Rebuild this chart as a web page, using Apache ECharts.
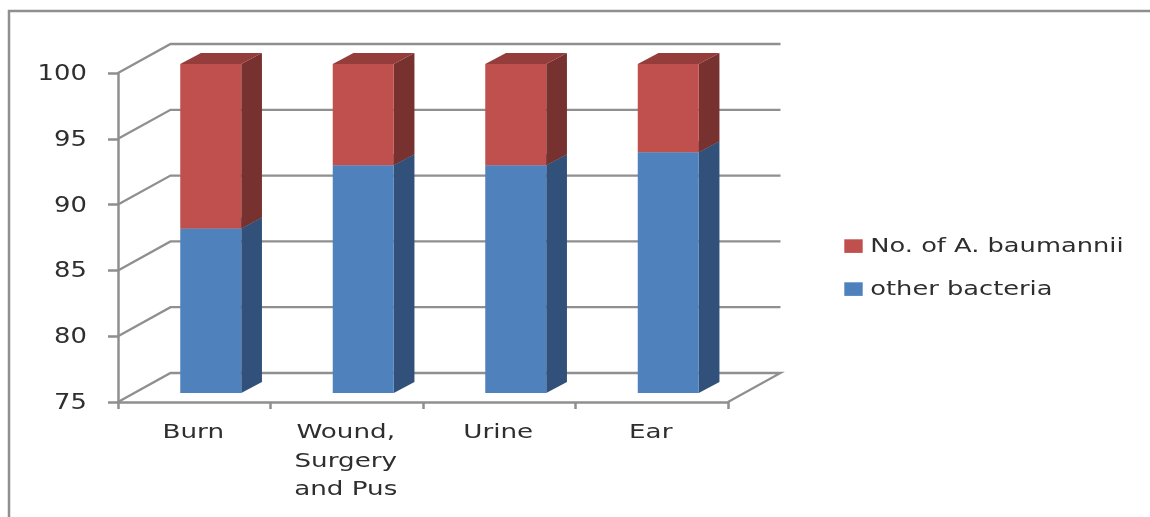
<!DOCTYPE html>
<html>
<head>
<meta charset="utf-8">
<style>html,body{margin:0;padding:0;background:#fff}#chart{width:1150px;height:517px}</style>
<script src="https://cdn.jsdelivr.net/npm/echarts@6/dist/echarts.min.js"></script>
</head>
<body>
<div id="chart"></div>
<script>
const categories = ['Burn', 'Wound,\nSurgery\nand Pus', 'Urine', 'Ear'];
const otherBacteria = [87.5, 92.3, 92.3, 93.3];
const baumannii = [12.5, 7.7, 7.7, 6.7];
const yTicks = [75, 80, 85, 90, 95, 100];
const seriesNames = ['No. of A. baumannii', 'other bacteria'];

// Pseudo-3D projection, in pixels
const WALL = [52.5, -29];
const BAR_FRONT = [16.5, -9];
const BAR_DEPTH = [20.7, -11];
const BAR_BAND = 0.4;
const LINE = '#8f8f8f';
const INK = '#2e2e2e';
const FONT = 'DejaVu Sans';
const RED = ['#c0504d', '#773230', '#953d3a'];
const BLUE = ['#4f81bd', '#31517a', '#3e6797'];

function shifted(p, d) { return [p[0] + d[0], p[1] + d[1]]; }

function poly(points, fill) {
  return { type: 'polygon', shape: { points: points }, style: { fill: fill } };
}

// Horizontally widened label text
function wideText(text, x, y, size, stretch, align, valign) {
  return {
    type: 'text',
    x: x,
    y: y,
    scaleX: stretch,
    style: {
      text: text,
      x: 0,
      y: 0,
      fill: INK,
      font: size + 'px "' + FONT + '"',
      align: align,
      verticalAlign: valign,
      lineHeight: 28.7
    }
  };
}

// One stacked segment: front, side and top faces
function segmentRenderer(colors) {
  return function (params, api) {
    const band = api.size([1, 0])[0];
    const half = band * BAR_BAND / 2;
    const low = shifted(api.coord([api.value(0), api.value(1)]), BAR_FRONT);
    const high = shifted(api.coord([api.value(0), api.value(2)]), BAR_FRONT);
    const bl = [low[0] - half, low[1]], br = [low[0] + half, low[1]];
    const tl = [high[0] - half, high[1]], tr = [high[0] + half, high[1]];
    return {
      type: 'group',
      children: [
        poly([tl, tr, shifted(tr, BAR_DEPTH), shifted(tl, BAR_DEPTH)], colors[2]),
        poly([br, tr, shifted(tr, BAR_DEPTH), shifted(br, BAR_DEPTH)], colors[1]),
        poly([bl, br, tr, tl], colors[0])
      ]
    };
  };
}

// Back-wall gridlines with their slanted run along the side wall
function renderWall(params, api) {
  const half = api.size([1, 0])[0] / 2;
  const first = api.coord([0, api.value(0)]);
  const last = api.coord([categories.length - 1, api.value(0)]);
  const a = [first[0] - half, first[1]];
  const end = [last[0] + half, last[1]];
  const points = [a, shifted(a, WALL), shifted(end, WALL)];
  if (api.value(0) === yTicks[0]) points.push(end);
  return {
    type: 'polyline',
    shape: { points: points },
    style: { stroke: LINE, lineWidth: 2.3, fill: null }
  };
}

// Category names under the floor
function renderCategoryLabel(params, api) {
  const p = api.coord([api.value(0), yTicks[0]]);
  return wideText(categories[api.value(0)], p[0] - 1, p[1] + 16.5, 20, 1.31, 'center', 'top');
}

// Value labels left of the axis
function renderValueLabel(params, api) {
  const half = api.size([1, 0])[0] / 2;
  const p = api.coord([0, api.value(0)]);
  return wideText(String(api.value(0)), p[0] - half - 31.2, p[1] + 1.5, 21.5, 1.2, 'right', 'middle');
}

const lowerRows = categories.map((c, i) => [i, yTicks[0], otherBacteria[i]]);
const upperRows = categories.map((c, i) => [i, otherBacteria[i], otherBacteria[i] + baumannii[i]]);

const legendSwatches = [RED[0], BLUE[0]];
const legendItems = seriesNames.map((name, i) => ({
  type: 'group',
  x: 844.3,
  y: 239.3 + i * 43,
  children: [
    { type: 'rect', shape: { x: 0, y: 0, width: 18.4, height: 13.6 }, style: { fill: legendSwatches[i] } },
    wideText(name, 26, 7.5, 20, 1.285, 'left', 'middle')
  ]
}));

const chart = echarts.init(document.getElementById('chart'), null, { renderer: 'canvas' });
chart.setOption({
  animation: false,
  backgroundColor: '#fff',
  textStyle: { fontFamily: FONT },
  grid: { left: 118, top: 73, width: 610, height: 329 },
  graphic: [{
    type: 'polyline',
    shape: { points: [[9, 517], [9, 11], [1150, 11]] },
    style: { stroke: LINE, lineWidth: 2.5, fill: null }
  }].concat(legendItems),
  xAxis: {
    type: 'category',
    data: categories,
    boundaryGap: true,
    axisLine: { lineStyle: { color: LINE, width: 2.5 } },
    axisTick: { show: true, alignWithLabel: false, length: 7, lineStyle: { color: LINE, width: 2.5 } },
    axisLabel: { show: false }
  },
  yAxis: {
    type: 'value',
    min: 75,
    max: 100,
    interval: 5,
    axisLine: { show: true, lineStyle: { color: LINE, width: 2.5 } },
    axisTick: { show: true, length: 10, lineStyle: { color: LINE, width: 2.5 } },
    splitLine: { show: false },
    axisLabel: { show: false }
  },
  series: [
    {
      type: 'custom',
      silent: true,
      clip: false,
      z: 1,
      renderItem: renderWall,
      data: yTicks.map(v => [v]),
      encode: { y: 0 }
    },
    {
      name: seriesNames[1],
      type: 'custom',
      clip: false,
      z: 2,
      renderItem: segmentRenderer(BLUE),
      data: lowerRows,
      encode: { x: 0, y: [1, 2] }
    },
    {
      name: seriesNames[0],
      type: 'custom',
      clip: false,
      z: 3,
      renderItem: segmentRenderer(RED),
      data: upperRows,
      encode: { x: 0, y: [1, 2] }
    },
    {
      type: 'custom',
      silent: true,
      clip: false,
      z: 4,
      renderItem: renderCategoryLabel,
      data: categories.map((c, i) => [i]),
      encode: { x: 0 }
    },
    {
      type: 'custom',
      silent: true,
      clip: false,
      z: 4,
      renderItem: renderValueLabel,
      data: yTicks.map(v => [v]),
      encode: { y: 0 }
    }
  ]
});
</script>
</body>
</html>
